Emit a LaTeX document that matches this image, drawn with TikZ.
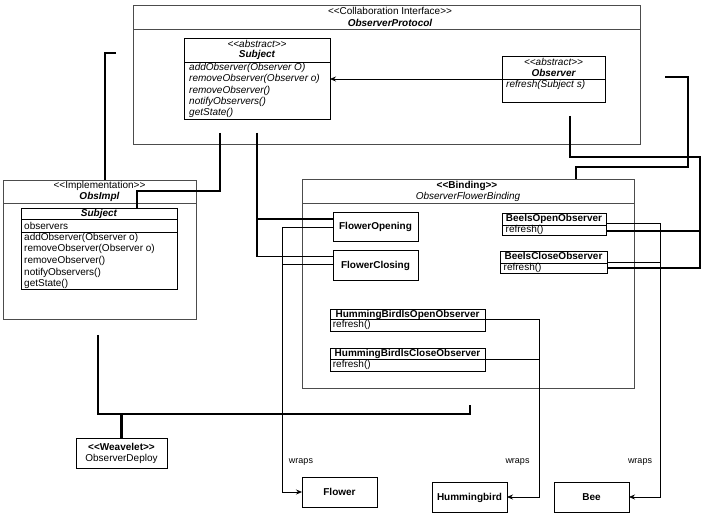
\documentclass[tikz,border=0pt]{standalone}
\usepackage{fontspec}
\setmainfont{Liberation Sans}
\usetikzlibrary{arrows.meta,calc}
\newcommand{\stl}{<\kern0pt<}
\newcommand{\stg}{>\kern0pt>}
\begin{document}
\begin{tikzpicture}[x=1pt,y=-1pt,
  pkg/.style={draw=black!70, line width=0.8pt, anchor=north west, inner sep=0pt, outer sep=0pt},
  cls/.style={draw=black, line width=0.8pt, anchor=north west, inner sep=0pt, outer sep=0pt},
  divline/.style={draw=black, line width=0.8pt},
  pdivline/.style={draw=black!70, line width=0.8pt},
  tc/.style={inner sep=0pt, anchor=base, font=\fontsize{10}{12}\selectfont},
  tl/.style={inner sep=0pt, anchor=base west, font=\fontsize{10}{12}\selectfont},
  tw/.style={inner sep=0pt, anchor=base, font=\fontsize{9}{11}\selectfont},
  thickc/.style={line width=2.6pt},
  medc/.style={line width=1.4pt},
  thinc/.style={line width=0.7pt},
  arr/.style={-{Stealth[length=6pt,width=5pt]}}
]
\fill[white] (0,0) rectangle (702,521);
\useasboundingbox (0,0) rectangle (702,521);

% ---------- ObserverProtocol package ----------
\node[pkg, minimum width=507pt, minimum height=139pt] (P1) at (133,5) {};
\draw[pdivline] ($(P1.north west)+(0,24)$) -- ($(P1.north east)+(0,24)$);
\node[tc] (P1s) at (390,15) {\stl Collaboration Interface\stg};
\node[tc] (P1n) at (390,26.5) {\bfseries\itshape ObserverProtocol};

\node[cls, minimum width=146pt, minimum height=81pt] (AS) at (184,38) {};
\draw[divline] ($(AS.north west)+(0,24)$) -- ($(AS.north east)+(0,24)$);
\node[tc] (ASs) at (257,47.5) {\itshape \stl abstract\stg};
\node[tc] (ASn) at (257,58) {\bfseries\itshape Subject};
\node[tl] (ASm1) at (189,70.5) {\itshape addObserver(Observer O)};
\node[tl] (ASm2) at (189,81.8) {\itshape removeObserver(Observer o)};
\node[tl] (ASm3) at (189,93.1) {\itshape removeObserver()};
\node[tl] (ASm4) at (189,104.4) {\itshape notifyObservers()};
\node[tl] (ASm5) at (189,115.7) {\itshape getState()};

\node[cls, minimum width=103pt, minimum height=46pt] (O) at (502,56) {};
\draw[divline] ($(O.north west)+(0,23)$) -- ($(O.north east)+(0,23)$);
\node[tc] (Os) at (553.5,65.3) {\itshape \stl abstract\stg};
\node[tc] (On) at (553.5,76.7) {\bfseries\itshape Observer};
\node[tl] (Om) at (506,88) {\itshape refresh(Subject s)};

% ---------- ObsImpl package ----------
\node[pkg, minimum width=193pt, minimum height=139pt] (P2) at (3,180) {};
\draw[pdivline] ($(P2.north west)+(0,23)$) -- ($(P2.north east)+(0,23)$);
\node[tc] (P2s) at (99.5,189) {\stl Implementation\stg};
\node[tc] (P2n) at (99.5,199.5) {\bfseries\itshape ObsImpl};

\node[cls, minimum width=156pt, minimum height=81pt] (S2) at (21,208) {};
\draw[divline] ($(S2.north west)+(0,11)$) -- ($(S2.north east)+(0,11)$);
\draw[divline] ($(S2.north west)+(0,24)$) -- ($(S2.north east)+(0,24)$);
\node[tc] (S2n) at (99,217) {\bfseries\itshape Subject};
\node[tl] (S2a) at (24,229.5) {observers};
\node[tl] (S2m1) at (24,240.5) {addObserver(Observer o)};
\node[tl] (S2m2) at (24,252) {removeObserver(Observer o)};
\node[tl] (S2m3) at (24,263.6) {removeObserver()};
\node[tl] (S2m4) at (24,275.2) {notifyObservers()};
\node[tl] (S2m5) at (24,286.7) {getState()};

% ---------- Binding package ----------
\node[pkg, minimum width=332pt, minimum height=209pt] (P3) at (302,179) {};
\draw[pdivline] ($(P3.north west)+(0,24)$) -- ($(P3.north east)+(0,24)$);
\node[tc] (P3s) at (467,188.5) {\bfseries \stl Binding\stg};
\node[tc] (P3n) at (468,199.8) {\itshape ObserverFlowerBinding};

\node[cls, minimum width=85pt, minimum height=29pt] (FO) at (333,212) {};
\node[tc] (FOt) at (375.5,230) {\bfseries FlowerOpening};
\node[cls, minimum width=85pt, minimum height=30pt] (FC) at (333,250) {};
\node[tc] (FCt) at (375.5,268.5) {\bfseries FlowerClosing};

\node[cls, minimum width=104pt, minimum height=22pt] (BO) at (502,213) {};
\draw[divline] ($(BO.north west)+(0,12)$) -- ($(BO.north east)+(0,12)$);
\node[tc] (BOt) at (554,222) {\bfseries BeeIsOpenObserver};
\node[tl] (BOm) at (505.5,232.5) {refresh()};

\node[cls, minimum width=107pt, minimum height=22pt] (BC) at (500,251) {};
\draw[divline] ($(BC.north west)+(0,12)$) -- ($(BC.north east)+(0,12)$);
\node[tc] (BCt) at (553.5,260) {\bfseries BeeIsCloseObserver};
\node[tl] (BCm) at (503.5,271) {refresh()};

\node[cls, minimum width=155pt, minimum height=22pt] (HO) at (330,309) {};
\draw[divline] ($(HO.north west)+(0,10.3)$) -- ($(HO.north east)+(0,10.3)$);
\node[tc] (HOt) at (407.5,317.2) {\bfseries HummingBirdIsOpenObserver};
\node[tl] (HOm) at (332.7,327.8) {refresh()};

\node[cls, minimum width=155pt, minimum height=23pt] (HC) at (330,348) {};
\draw[divline] ($(HC.north west)+(0,11)$) -- ($(HC.north east)+(0,11)$);
\node[tc] (HCt) at (407.5,356.7) {\bfseries HummingBirdIsCloseObserver};
\node[tl] (HCm) at (332.7,367.5) {refresh()};

% ---------- Weavelet and base classes ----------
\node[cls, minimum width=91pt, minimum height=30pt] (W) at (76,438) {};
\node[tc] (Ws) at (121.5,450.5) {\bfseries \stl Weavelet\stg};
\node[tc] (Wn) at (121.5,461.5) {ObserverDeploy};

\node[cls, minimum width=75pt, minimum height=30pt] (F) at (302,477) {};
\node[tc] (Ft) at (339.5,495.5) {\bfseries Flower};
\node[cls, minimum width=75pt, minimum height=30pt] (H) at (432,482) {};
\node[tc] (Ht) at (469.5,500.5) {\bfseries Hummingbird};
\node[cls, minimum width=75pt, minimum height=30pt] (B) at (554,482) {};
\node[tc] (Bt) at (591.5,500.5) {\bfseries Bee};

\node[tw] (w1) at (301,464) {wraps};
\node[tw] (w2) at (517.5,464) {wraps};
\node[tw] (w3) at (640,464) {wraps};

% ---------- free ends ----------
\coordinate (t1a) at (116,53);
\coordinate (t2a) at (98,335);
\coordinate (t2b) at (470,405);
\coordinate (t3a) at (665,77);
\coordinate (t3c) at (688,167);
\coordinate (m1a) at (220,133);
\coordinate (m1c) at (137,191);
\coordinate (m2a) at (257,133);
\coordinate (m4a) at (570,116);
\coordinate (m4c) at (700,157);

% ---------- thick connectors ----------
\draw[thickc] (t1a) -| ($(P2.north west)+(102,0)$);
\draw[thickc] (t2a) |- ($(t2b)+(0,9)$) -- (t2b);
\draw[thickc] (W.north) -- ++(0,-24);
\draw[thickc] (t3a) -| (t3c) -| ($(P3.north west)+(274,0)$);

% ---------- medium connectors ----------
\draw[medc] (m1a) |- (m1c) -- ($(S2.north west)+(116,0)$);
\draw[medc] (m2a) |- ($(FO.north west)+(0,7)$);
\draw[medc] (m2a) |- ($(FC.north west)+(0,6.5)$);
\draw[medc] (m4a) |- (m4c) |- ($(BC.north east)+(0,17)$);
\draw[medc] ($(BO.north east)+(94,18)$) -- ($(BO.north east)+(0,18)$);

% ---------- thin connectors ----------
\draw[thinc,arr] ($(O.north west)+(0,23)$) -- ($(AS.north east)+(0,41)$);
\draw[thinc,arr] ($(FO.north west)+(0,15)$) -| ($(F.west)+(-20,0)$) -- (F.west);
\draw[thinc] ($(FC.north west)+(0,14)$) -- ++(-51,0);
\draw[thinc,arr] ($(BO.north east)+(0,10)$) -| ($(B.east)+(31,0)$) -- (B.east);
\draw[thinc] ($(BC.north east)+(0,11)$) -- ++(53,0);
\draw[thinc,arr] ($(HO.north east)+(0,10.3)$) -| ($(H.east)+(32,0)$) -- (H.east);
\draw[thinc] ($(HC.north east)+(0,11)$) -- ++(54,0);
\end{tikzpicture}
\end{document}
